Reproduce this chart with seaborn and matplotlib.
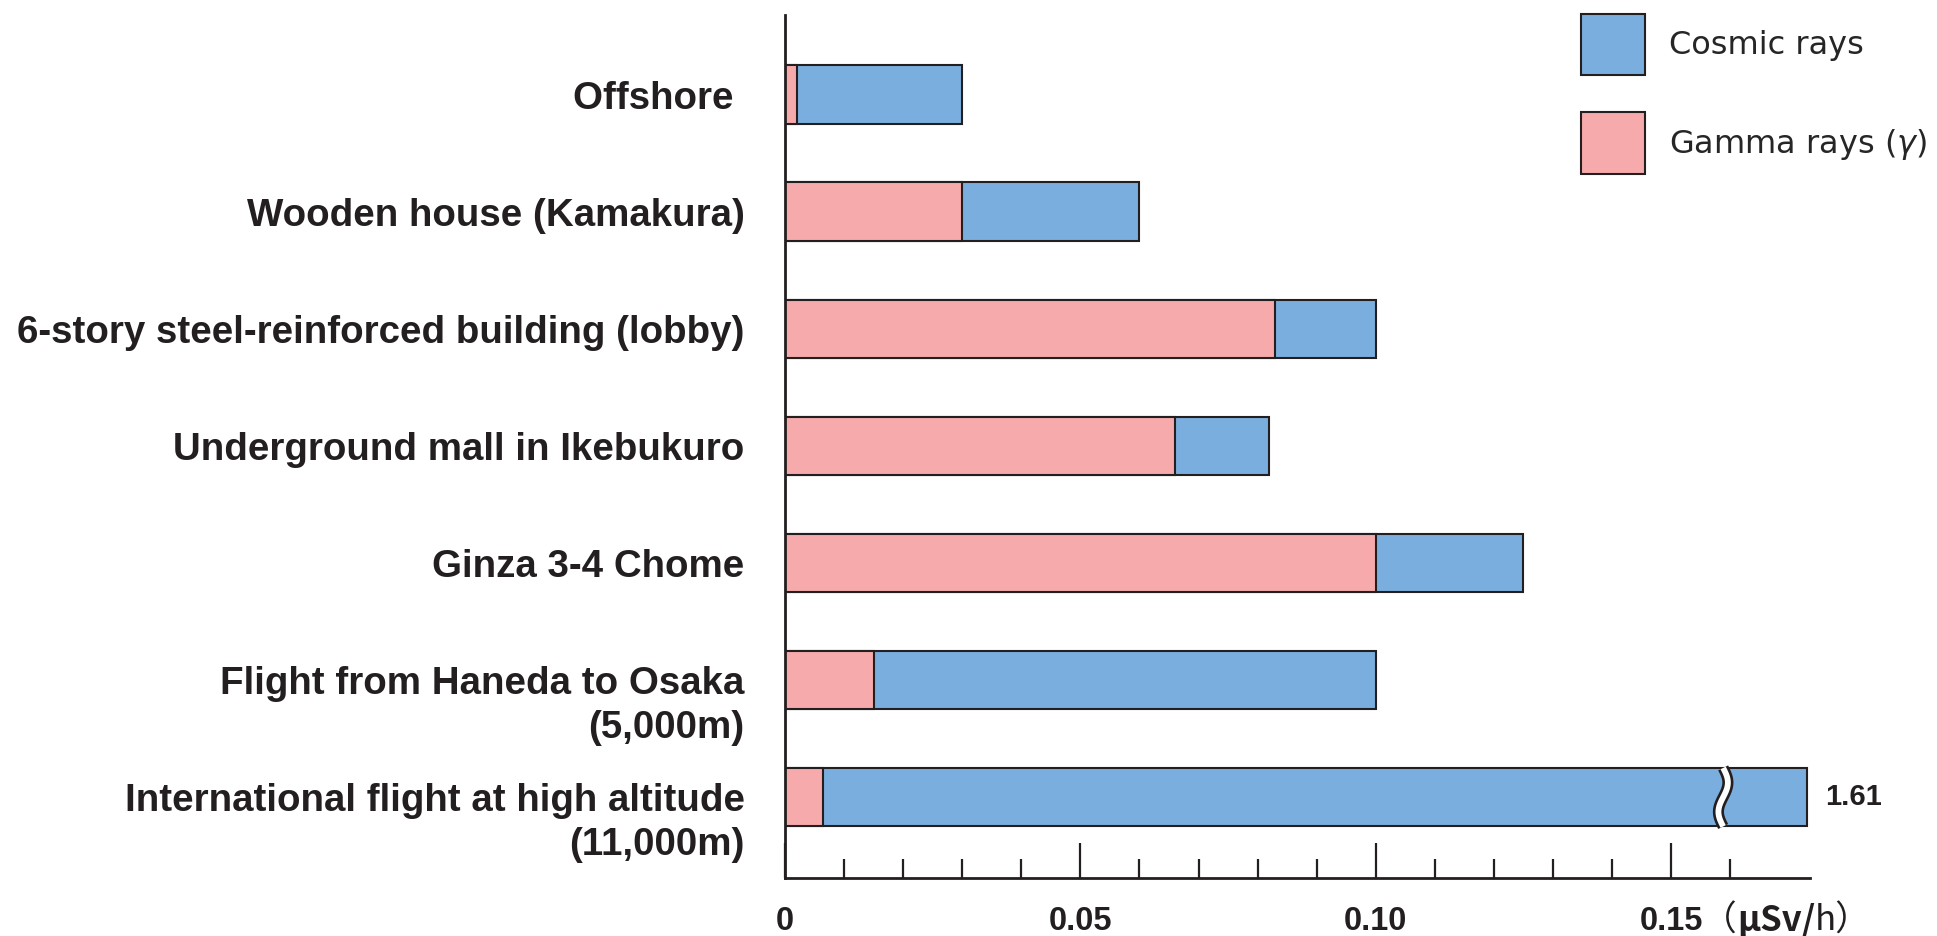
import numpy as np
import pandas as pd
import matplotlib.pyplot as plt
import matplotlib.transforms as mtransforms
from matplotlib.patches import Patch
import seaborn as sns

places = [
    "Offshore ",
    "Wooden house (Kamakura)",
    "6-story steel-reinforced building (lobby)",
    "Underground mall in Ikebukuro",
    "Ginza 3-4 Chome",
    "Flight from Haneda to Osaka\n(5,000m)",
    "International flight at high altitude\n(11,000m)",
]
gamma = [0.002, 0.030, 0.083, 0.066, 0.100, 0.015, 0.0065]
cosmic = [0.028, 0.030, 0.017, 0.016, 0.025, 0.085, 1.6035]
x_ticks = [0, 0.05, 0.10, 0.15]
x_ticklabels = ["0", "0.05", "0.10", "0.15"]
minor_ticks = [0.01, 0.02, 0.03, 0.04, 0.06, 0.07, 0.08, 0.09,
               0.11, 0.12, 0.13, 0.14, 0.16]

BLUE = "#7aaede"
PINK = "#f7aaac"
INK = "#231f20"
X_MAX = 0.1735      # end of the drawn axis
BAR_CAP = 0.173     # where a broken (off-scale) bar is drawn to end
BREAK_AT = 0.1588   # position of the wavy break mark

df = pd.DataFrame({"place": places, "gamma": gamma, "cosmic": cosmic})
df["total"] = df["gamma"] + df["cosmic"]
df["shown"] = np.minimum(df["total"], BAR_CAP)

sns.set_style("white")
plt.rcParams["font.family"] = ["Liberation Sans", "DejaVu Sans"]

fig = plt.figure(figsize=(19.37, 9.36), dpi=100)
ax = fig.add_axes([785 / 1937, 1 - 878 / 936, (1810 - 785) / 1937, (878 - 15) / 936])

sns.barplot(data=df, x="shown", y="place", orient="h", color=BLUE, width=0.5,
            edgecolor=INK, linewidth=1.5, errorbar=None, saturation=1, ax=ax)
sns.barplot(data=df, x="gamma", y="place", orient="h", color=PINK, width=0.5,
            edgecolor=INK, linewidth=1.5, errorbar=None, saturation=1, ax=ax)

# wavy break mark and true value for off-scale bars
for i, row in df.iterrows():
    if row["total"] > BAR_CAP:
        yy = np.linspace(i - 0.25, i + 0.25, 60)
        xx = BREAK_AT + 0.0008 * np.sin(np.linspace(0, 2 * np.pi, 60))
        ax.plot(xx, yy, color=INK, lw=8, solid_capstyle="butt", zorder=5)
        ax.plot(xx, yy, color="white", lw=4.2, solid_capstyle="butt", zorder=6)
        ax.annotate(f"{row['total']:.2f}", xy=(row["shown"], i), xytext=(13, 0),
                    textcoords="offset points", ha="left", va="center",
                    fontsize=21, fontweight="bold", color=INK)

ax.set_xlim(0, X_MAX)
ax.set_ylim(6.69, -0.68)
ax.set_xlabel("")
ax.set_ylabel("")

for side in ["top", "right"]:
    ax.spines[side].set_visible(False)
for side in ["left", "bottom"]:
    ax.spines[side].set_linewidth(2)
    ax.spines[side].set_color(INK)

ax.set_xticks(x_ticks)
ax.set_xticklabels(x_ticklabels, fontsize=23.5, fontweight="bold", color=INK)
ax.set_xticks(minor_ticks, minor=True)
ax.tick_params(axis="x", which="major", direction="in", length=25, width=1.6,
               color=INK, pad=20, bottom=True)
ax.tick_params(axis="x", which="minor", direction="in", length=14, width=1.6,
               color=INK, bottom=True)

ax.set_yticks(range(len(places)))
ax.set_yticklabels(places, fontsize=27.7, fontweight="bold", color=INK, linespacing=1.3)
ax.tick_params(axis="y", length=0, pad=29)
for lab in ax.get_yticklabels():
    if "\n" in lab.get_text():
        lab.set_verticalalignment("top")
        lab.set_transform(lab.get_transform() +
                          mtransforms.ScaledTranslation(0, 0.145, fig.dpi_scale_trans))

# unit label
cjk = ["Noto Sans CJK JP", "DejaVu Sans"]
t1 = fig.text(1702 / 1937, 1 - 921 / 936, "（", family=cjk, fontsize=25,
              ha="left", va="center", color=INK)
t2 = ax.annotate("μSv/", xy=(1, 0), xycoords=t1, ha="left", va="bottom",
                 family=cjk, fontsize=25, fontweight="bold", color=INK)
t3 = ax.annotate("h）", xy=(1, 0), xycoords=t2, ha="left", va="bottom",
                 family=cjk, fontsize=25, color=INK)

handles = [Patch(facecolor=BLUE, edgecolor=INK, linewidth=1.5, label="Cosmic rays"),
           Patch(facecolor=PINK, edgecolor=INK, linewidth=1.5, label="Gamma rays ($\\gamma$)")]
fig.legend(handles=handles, loc="upper left", bbox_to_anchor=(1581 / 1937, 1 - 14 / 936),
           frameon=False, prop={"family": "DejaVu Sans", "size": 23},
           handlelength=1.99, handleheight=2.58, handletextpad=0.77, labelspacing=1.15,
           borderpad=0, borderaxespad=0)

fig.savefig("out.png", dpi=100)
